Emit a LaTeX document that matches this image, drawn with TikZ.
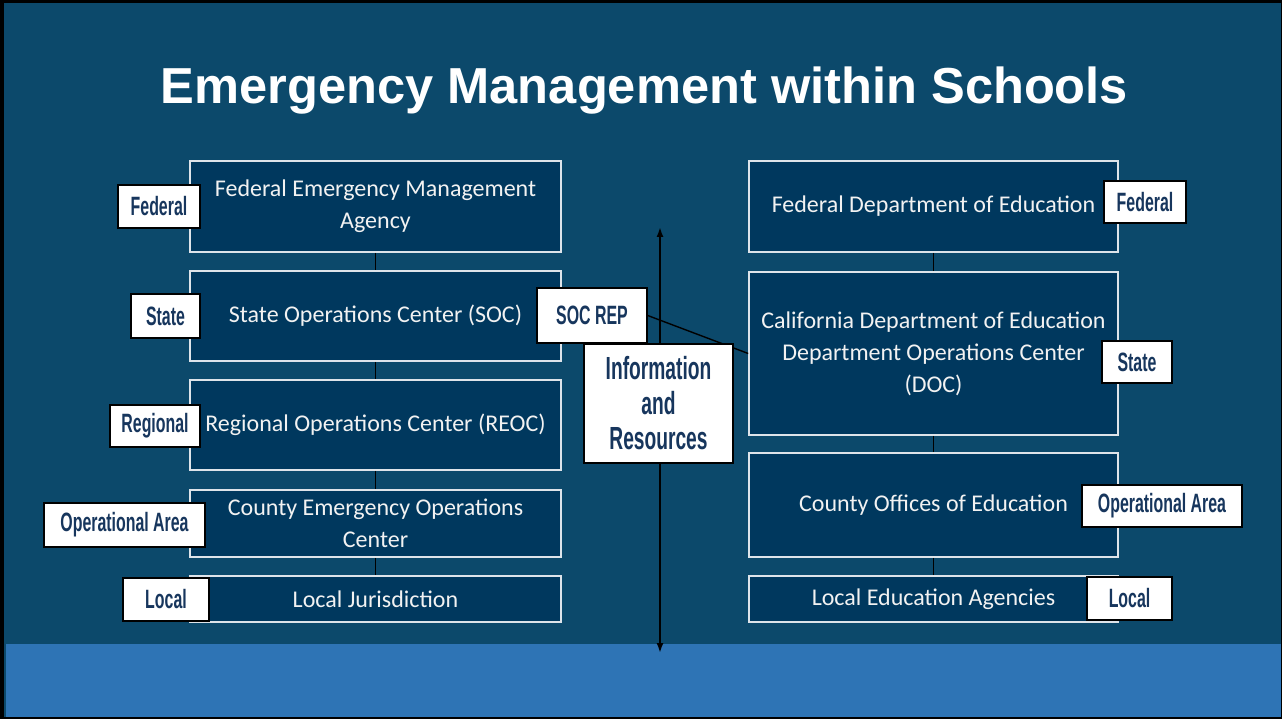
\documentclass[tikz,border=0pt]{standalone}
\usepackage{fontspec}
\usepackage{amssymb,amsmath}
\usetikzlibrary{arrows.meta}
\setmainfont{Carlito}
\newfontfamily\titlefont{Liberation Sans}
\newfontfamily\tagfont[FakeStretch=0.6]{Liberation Sans}
\definecolor{bg}{RGB}{12,73,107}
\definecolor{boxfill}{RGB}{0,56,94}
\definecolor{boxline}{RGB}{222,228,234}
\definecolor{boxtext}{RGB}{242,242,242}
\definecolor{band}{RGB}{46,116,181}
\definecolor{tagtext}{RGB}{23,54,93}

\begin{document}
\begin{tikzpicture}[x=1pt,y=-1pt,
        box/.style={draw=boxline,line width=1.6pt,fill=boxfill,text=boxtext,align=center,inner sep=0pt,font=\fontsize{24}{32}\selectfont},
        tag/.style={draw=black,line width=1.4pt,fill=white,text=tagtext,align=center,inner sep=0pt,font=\tagfont\bfseries\fontsize{26.5}{30}\selectfont}]
            \useasboundingbox (0,0) rectangle (1282,719);
            % slide background and bottom band
            \fill [black] (0,0) rectangle (1282,719);
            \fill [bg] (4,3) rectangle (1281,717);
            \fill [band] (6,644) rectangle (1281,717);
            \node [font=\titlefont\bfseries\fontsize{50.6}{58}\selectfont,text=white,anchor=base] (T) at (644.5,104) {Emergency Management within Schools};
            % information flow
            \coordinate (P) at (660,227);
            \coordinate (Q) at (660,653);
            \draw [{Latex[length=10pt,width=7pt]}-{Latex[length=10pt,width=7pt]},line width=1.8pt] (P) -- (Q);
            % emergency management side
            \node [box,minimum width=371pt,minimum height=91pt] (L1) at (375.5,206.5) {Federal Emergency Management\\Agency};
            \node [box,minimum width=371pt,minimum height=90pt] (L2) at (375.5,316) {State Operations Center (SOC)};
            \node [box,minimum width=371pt,minimum height=90pt] (L3) at (375.5,425) {Regional Operations Center (REOC)};
            \node [box,minimum width=371pt,minimum height=67pt] (L4) at (375.5,523.5) {County Emergency Operations\\Center};
            \node [box,minimum width=371pt,minimum height=46pt] (L5) at (375.5,599) {Local Jurisdiction};
            \draw [line width=1.4pt] (L1) -- (L2);
            \draw [line width=1.4pt] (L2) -- (L3);
            \draw [line width=1.4pt] (L3) -- (L4);
            \draw [line width=1.4pt] (L4) -- (L5);
            % education side
            \node [box,minimum width=369pt,minimum height=91pt] (R1) at (933.5,206.5) {Federal Department of Education};
            \node [box,minimum width=369pt,minimum height=163pt] (R2) at (933.5,353.5) {California Department of Education\\Department Operations Center\\(DOC)};
            \node [box,minimum width=369pt,minimum height=104pt] (R3) at (933.5,505) {County Offices of Education};
            \node [box,minimum width=369pt,minimum height=46pt] (R4) at (933.5,599) {Local Education Agencies};
            \draw [line width=1.4pt] (R1) -- (R2);
            \draw [line width=1.4pt] (R2) -- (R3);
            \draw [line width=1.4pt] (R3) -- (R4);
            % level tags
            \node [tag,minimum width=82pt,minimum height=43pt] (LT1) at (159,206.5) {Federal};
            \node [tag,minimum width=69pt,minimum height=44pt] (LT2) at (165.5,316) {State};
            \node [tag,minimum width=90pt,minimum height=42pt] (LT3) at (155,426) {Regional};
            \node [tag,minimum width=161pt,minimum height=44pt] (LT4) at (124.5,525) {Operational Area};
            \node [tag,minimum width=86pt,minimum height=43pt] (LT5) at (166,599.5) {Local};
            \node [tag,minimum width=82pt,minimum height=42pt] (RT1) at (1145,202) {Federal};
            \node [tag,minimum width=70pt,minimum height=42pt] (RT2) at (1137,362) {State};
            \node [tag,minimum width=160pt,minimum height=42pt] (RT3) at (1162,506) {Operational Area};
            \node [tag,minimum width=85pt,minimum height=43pt] (RT4) at (1129.5,598.5) {Local};
            % SOC representative at the DOC
            \node [tag,minimum width=110pt,minimum height=55pt] (S) at (592,315.5) {SOC REP};
            \draw [line width=1.4pt] (S.east) -- (R2.west);
            \node [tag,minimum width=149pt,minimum height=119pt,font=\tagfont\bfseries\fontsize{32}{35}\selectfont] (I) at (658.5,403.5) {Information\\and\\Resources};
        \end{tikzpicture}
\end{document}
